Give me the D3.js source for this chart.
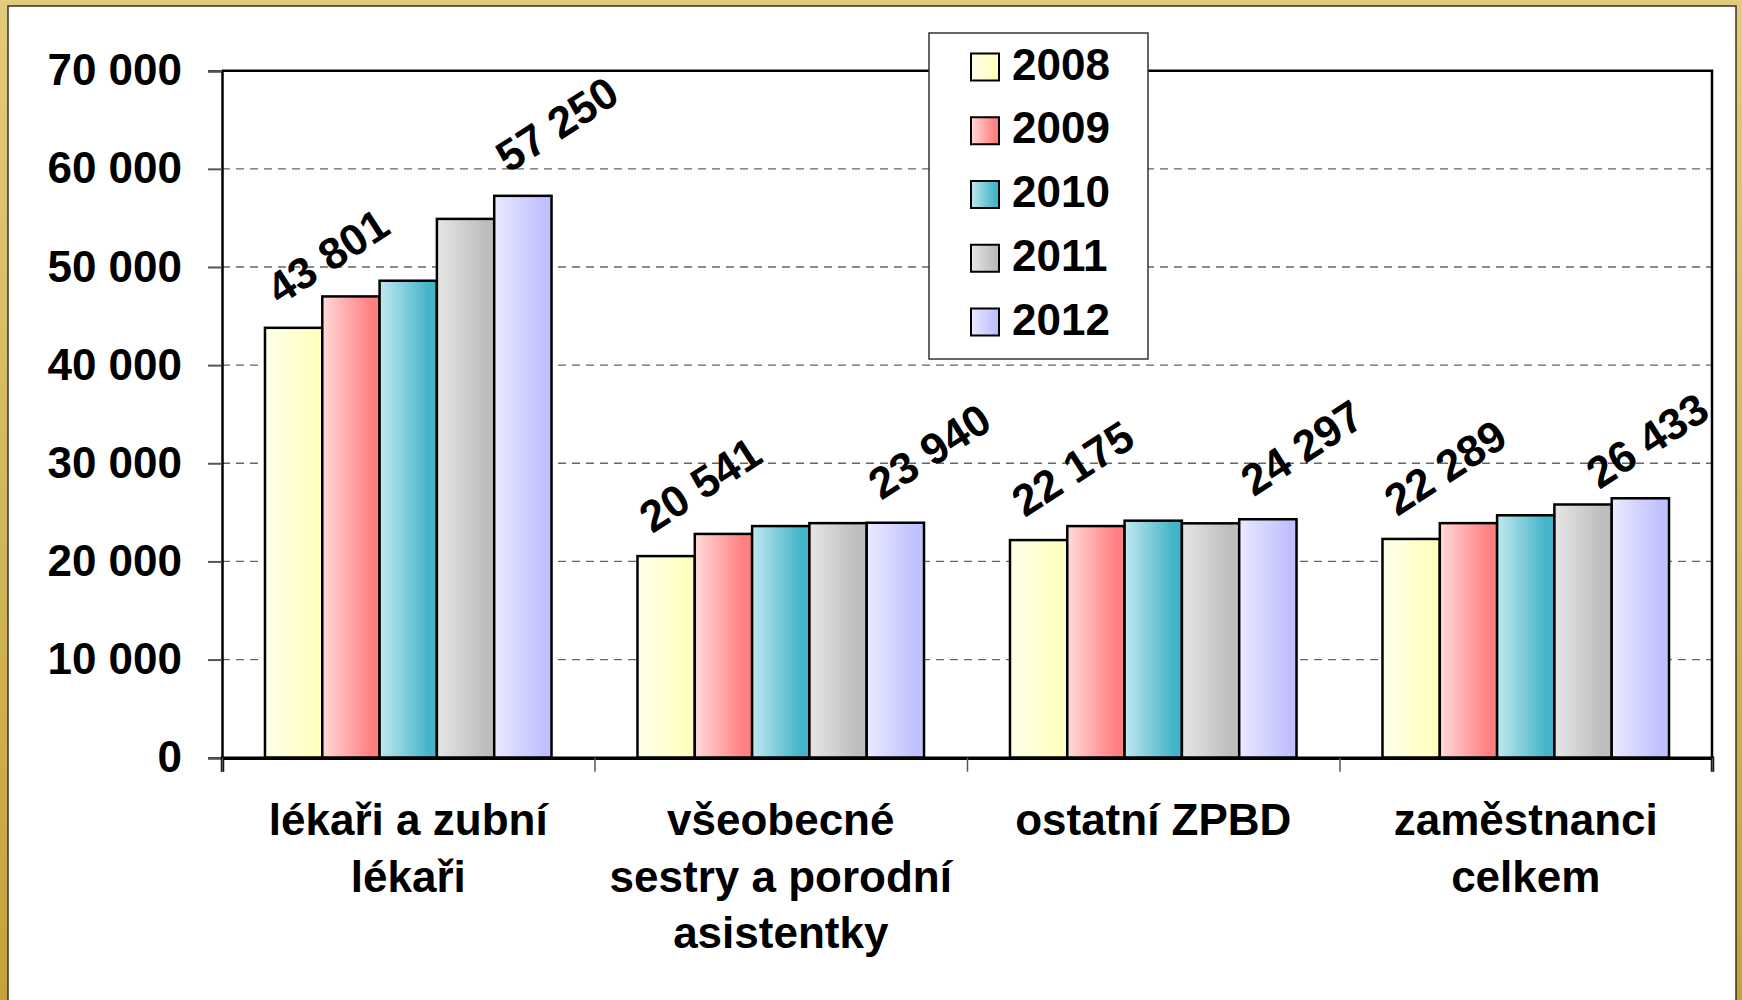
<!DOCTYPE html>
<html>
<head>
<meta charset="utf-8">
<script src="https://cdn.jsdelivr.net/npm/d3@7"></script>
<style>
  body { margin: 0; background: #fff; }
  svg { display: block; }
  text { font-family: "Liberation Sans", Arial, sans-serif; font-weight: bold; fill: #000; }
</style>
</head>
<body>
<div id="chart"></div>
<script>
// data
var categories = [
    ["lékaři a zubní", "lékaři"],
    ["všeobecné", "sestry a porodní", "asistentky"],
    ["ostatní ZPBD"],
    ["zaměstnanci", "celkem"]
];
var years = ["2008", "2009", "2010", "2011", "2012"];
var v2008 = [43801, 20541, 22175, 22289];
var v2009 = [47000, 22800, 23600, 23900];
var v2010 = [48600, 23600, 24150, 24700];
var v2011 = [54900, 23900, 23880, 25800];
var v2012 = [57250, 23940, 24297, 26433];
var yTicks = [0, 10000, 20000, 30000, 40000, 50000, 60000, 70000];
// only first and last year carry value labels
var labelledYears = ["2008", "2012"];

var series = [v2008, v2009, v2010, v2011, v2012];
var colors = [
    ["#FFFFEC", "#FFFFC0"],
    ["#FFDADA", "#FF8080"],
    ["#C2E8F0", "#44B4C8"],
    ["#E6E6E6", "#BDBDBD"],
    ["#EAEAFF", "#C0C0FF"]
];

var width = 1742, height = 1000;
var plot = {left: 222, right: 1712, top: 70.7, bottom: 757.7};
var fontSize = "44px";
var angle = 33;
var fmt = function (v) { return d3.format(",")(v).replace(/,/g, " "); };

var svg = d3.select("#chart").append("svg")
    .attr("width", width)
    .attr("height", height);

var defs = svg.append("defs");
var frame = defs.append("linearGradient").attr("id", "frame")
    .attr("x1", 0).attr("y1", 0).attr("x2", 0).attr("y2", 1);
frame.append("stop").attr("offset", 0).attr("stop-color", "#E2CB7C");
frame.append("stop").attr("offset", 1).attr("stop-color", "#C4A33C");

colors.forEach(function (c, i) {
    var g = defs.append("linearGradient").attr("id", "grad" + i)
        .attr("x1", 0).attr("y1", 0).attr("x2", 1).attr("y2", 0);
    g.append("stop").attr("offset", 0).attr("stop-color", c[0]);
    g.append("stop").attr("offset", 0.85).attr("stop-color", c[1]);
    g.append("stop").attr("offset", 1).attr("stop-color", c[1]);
});

// gold frame and white panel
svg.append("rect").attr("width", width).attr("height", height).attr("fill", "url(#frame)");
svg.append("rect")
    .attr("x", 8).attr("y", 6).attr("width", 1728).attr("height", 1000)
    .attr("fill", "#fff").attr("stroke", "#3a3220").attr("stroke-width", 1.5);

// scales
var y = d3.scaleLinear().domain([0, 70000]).range([plot.bottom, plot.top]);
var x0 = d3.scaleBand().domain(d3.range(categories.length)).range([plot.left, plot.right]);
var x1 = d3.scaleBand().domain(years).range([0, x0.bandwidth()])
    .paddingInner(0).paddingOuter(0.75);
var xEdge = d3.scaleLinear().domain([0, categories.length]).range([plot.left, plot.right]);

// gridlines
svg.append("g")
    .selectAll("line")
    .data(yTicks.filter(function (t) { return t > 0 && t < 70000; }))
    .enter().append("line")
    .attr("x1", plot.left).attr("x2", plot.right)
    .attr("y1", function (d) { return y(d); })
    .attr("y2", function (d) { return y(d); })
    .attr("stroke", "#666")
    .attr("stroke-width", 1.3)
    .attr("stroke-dasharray", "8,6");

// plot border (top, right)
svg.append("path")
    .attr("d", "M" + plot.left + "," + plot.top + "H" + plot.right + "V" + plot.bottom)
    .attr("fill", "none").attr("stroke", "#000").attr("stroke-width", 2.5);

// y axis
var yAxis = svg.append("g")
    .attr("transform", "translate(" + plot.left + ",0)")
    .call(d3.axisLeft(y).tickValues(yTicks).tickSize(14).tickPadding(26).tickFormat(fmt));
yAxis.select(".domain").attr("stroke", "#000").attr("stroke-width", 2.5);
yAxis.selectAll(".tick line").attr("stroke", "#555").attr("stroke-width", 2);
yAxis.selectAll(".tick text")
    .style("font-size", fontSize)
    .style("font-family", "'Liberation Sans', Arial, sans-serif")
    .style("font-weight", "bold")
    .attr("fill", "#000");

// bars
var groups = svg.append("g")
    .selectAll("g")
    .data(categories)
    .enter().append("g")
    .attr("transform", function (d, i) { return "translate(" + x0(i) + ",0)"; });

groups.selectAll("rect")
    .data(function (d, i) {
        return years.map(function (yr, j) { return {year: yr, j: j, value: series[j][i]}; });
    })
    .enter().append("rect")
    .attr("x", function (d) { return x1(d.year); })
    .attr("y", function (d) { return y(d.value); })
    .attr("width", x1.bandwidth())
    .attr("height", function (d) { return y(0) - y(d.value); })
    .attr("fill", function (d) { return "url(#grad" + d.j + ")"; })
    .attr("stroke", "#000")
    .attr("stroke-width", 2.5);

// value labels (rotated), pushed back inside the plot when they run past its right edge
groups.each(function (cat, i) {
    var g = d3.select(this);
    var offset = x0(i);
    years.forEach(function (yr, j) {
        if (labelledYears.indexOf(yr) < 0) return;
        var v = series[j][i];
        var t = g.append("text")
            .attr("class", "val")
            .style("font-size", fontSize)
            .text(fmt(v));
        var len = t.node().getComputedTextLength();
        var cx = x1(yr) + x1.bandwidth() / 2 - 14;
        var cy = y(v) - 22;
        var over = offset + cx + len * Math.cos(angle * Math.PI / 180) - plot.right;
        if (over > 0) { cx -= over; cy += over * 0.5; }
        t.attr("transform", "translate(" + cx + "," + cy + ") rotate(" + (-angle) + ")");
    });
});

// x axis
var xAxis = svg.append("g")
    .attr("transform", "translate(0," + plot.bottom + ")")
    .call(d3.axisBottom(xEdge).tickValues(d3.range(categories.length + 1)).tickSize(14).tickFormat(""));
xAxis.select(".domain").attr("stroke", "#000").attr("stroke-width", 3.5);
xAxis.selectAll(".tick line").attr("stroke", "#555").attr("stroke-width", 1.5);

// category labels
var catLabels = svg.append("g")
    .selectAll("text")
    .data(categories)
    .enter().append("text")
    .attr("text-anchor", "middle")
    .style("font-size", fontSize);
catLabels.selectAll("tspan")
    .data(function (d, i) { return d.map(function (line) { return {line: line, i: i}; }); })
    .enter().append("tspan")
    .attr("x", function (d) { return x0(d.i) + x0.bandwidth() / 2; })
    .attr("y", function (d, k) { return 835 + k * 56.5; })
    .text(function (d) { return d.line; });

// legend
var legend = svg.append("g").attr("transform", "translate(929,33)");
legend.append("rect")
    .attr("width", 219).attr("height", 326)
    .attr("fill", "#fff").attr("stroke", "#333").attr("stroke-width", 1.5);
var items = legend.selectAll("g.item")
    .data(years)
    .enter().append("g")
    .attr("class", "item")
    .attr("transform", function (d, i) { return "translate(0," + (i * 63.75) + ")"; });
items.append("rect")
    .attr("x", 42).attr("y", 20.5)
    .attr("width", 28).attr("height", 27)
    .attr("fill", function (d, i) { return "url(#grad" + i + ")"; })
    .attr("stroke", "#000").attr("stroke-width", 2);
items.append("text")
    .attr("x", 83).attr("y", 46.5)
    .style("font-size", fontSize)
    .text(function (d) { return d; });
</script>
</body>
</html>
